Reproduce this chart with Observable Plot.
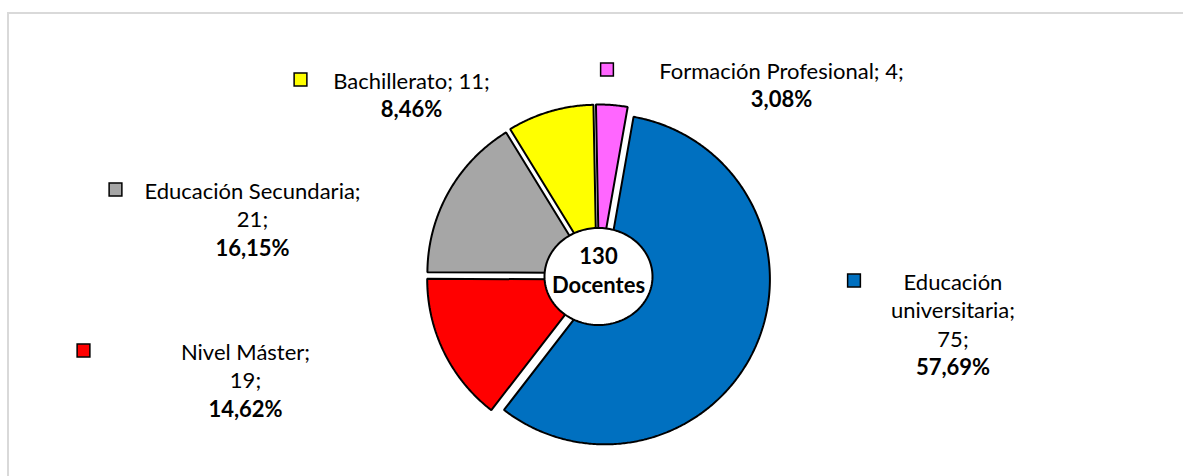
<!DOCTYPE html>
<html>
<head>
<meta charset="utf-8">
<script src="https://cdn.jsdelivr.net/npm/d3@7"></script>
<script src="https://cdn.jsdelivr.net/npm/@observablehq/plot@0.6"></script>
<style>
  html, body { margin: 0; padding: 0; background: #fff; overflow: hidden; }
  #wrap { position: relative; width: 1183px; height: 476px; }
  #frame { position: absolute; left: 7px; top: 12px; width: 1300px; height: 600px;
           border: 2px solid #d9d9d9; pointer-events: none; box-sizing: border-box; }
  #chart { position: absolute; left: 0; top: 0; }
</style>
</head>
<body>
<div id="wrap"><div id="chart"></div><div id="frame"></div></div>
<script>
// ---- data ----
const categories = ["Educación universitaria", "Nivel Máster", "Educación Secundaria", "Bachillerato", "Formación Profesional"];
const values = [75, 19, 21, 11, 4];
const colors = ["#0070C0", "#FF0000", "#A6A6A6", "#FFFF00", "#FF66FF"];
const centerWord = "Docentes";
// how label words are grouped into lines (name words + "value;"), percent goes on its own bold line
const labelWrap = [[1, 1, 1], [2, 1], [2, 1], [2], [3]];

// ---- layout (pixels) ----
const W = 1183, H = 476;
const cx = 598, cy = 276, R = 165, explode = 7;
const firstAngle = 10 * Math.PI / 180;
const holeRx = 54, holeRy = 48.5;
const font = "Lato, 'Open Sans', sans-serif";
const fontSize = 22, lineH = 28.5;
const labelPos = [
  {tx: 952.5, ty: 282, kx: 853.5},
  {tx: 245, ty: 352, kx: 83},
  {tx: 252, ty: 191, kx: 115},
  {tx: 411, ty: 81, kx: 300},
  {tx: 781, ty: 71, kx: 606.5}
];

// ---- derived geometry ----
const total = d3.sum(values);
const arcs = d3.pie().sort(null).value(d => d).startAngle(firstAngle).endAngle(firstAngle + 2 * Math.PI)(values);
const slicePts = [];
arcs.forEach((a, i) => {
  const mid = (a.startAngle + a.endAngle) / 2;
  const ox = cx + explode * Math.sin(mid), oy = cy - explode * Math.cos(mid);
  const name = categories[i];
  slicePts.push({name, x: ox, y: oy});
  const n = Math.max(2, Math.ceil((a.endAngle - a.startAngle) / (Math.PI / 360)));
  for (let k = 0; k <= n; k++) {
    const t = a.startAngle + (a.endAngle - a.startAngle) * k / n;
    slicePts.push({name, x: ox + R * Math.sin(t), y: oy - R * Math.cos(t)});
  }
  slicePts.push({name, x: ox, y: oy});
});
const holePts = d3.range(0, 361, 2).map(deg => {
  const t = deg * Math.PI / 180;
  return {x: cx + holeRx * Math.cos(t), y: cy + holeRy * Math.sin(t)};
});

const fmtPct = v => (v / total * 100).toFixed(2).replace(".", ",") + "%";
const textLines = [];
const keys = [];
categories.forEach((name, i) => {
  const tokens = name.split(" ");
  tokens[tokens.length - 1] += ";";
  tokens.push(values[i] + ";");
  const lines = [];
  let p = 0;
  for (const cnt of labelWrap[i]) { lines.push(tokens.slice(p, p + cnt).join(" ")); p += cnt; }
  const pos = labelPos[i];
  lines.forEach((t, j) => textLines.push({text: t, bold: false, x: pos.tx, y: pos.ty + j * lineH}));
  textLines.push({text: fmtPct(values[i]), bold: true, x: pos.tx, y: pos.ty + lines.length * lineH});
  keys.push({name, x: pos.kx, y: pos.ty - 2});
});
const centerLines = [{text: String(total), x: cx, y: cy - 19.5}, {text: centerWord, x: cx, y: cy + 9}];

const chart = Plot.plot({
  width: W, height: H,
  margin: 0,
  style: {background: "white", overflow: "visible"},
  x: {domain: [0, W], range: [0, W], axis: null},
  y: {domain: [0, H], range: [0, H], axis: null},
  color: {domain: categories, range: colors},
  marks: [
    Plot.line(slicePts, {x: "x", y: "y", z: "name", fill: "name", stroke: "black", strokeWidth: 2, strokeLinejoin: "miter", curve: "linear"}),
    Plot.line(holePts, {x: "x", y: "y", fill: "white", stroke: "black", strokeWidth: 2, curve: "linear"}),
    Plot.text(centerLines, {x: "x", y: "y", text: "text", fontFamily: font, fontSize: 22, fontWeight: "bold", fill: "black", textAnchor: "middle", lineAnchor: "middle"}),
    Plot.dot(keys, {x: "x", y: "y", fill: "name", symbol: "square", r: 7.2, stroke: "black", strokeWidth: 1.5}),
    Plot.text(textLines.filter(d => !d.bold), {x: "x", y: "y", text: "text", fontFamily: font, fontSize, fill: "black", textAnchor: "middle", lineAnchor: "middle"}),
    Plot.text(textLines.filter(d => d.bold), {x: "x", y: "y", text: "text", fontFamily: font, fontSize, fontWeight: "bold", fill: "black", textAnchor: "middle", lineAnchor: "middle"})
  ]
});
document.getElementById("chart").appendChild(chart);
</script>
</body>
</html>
